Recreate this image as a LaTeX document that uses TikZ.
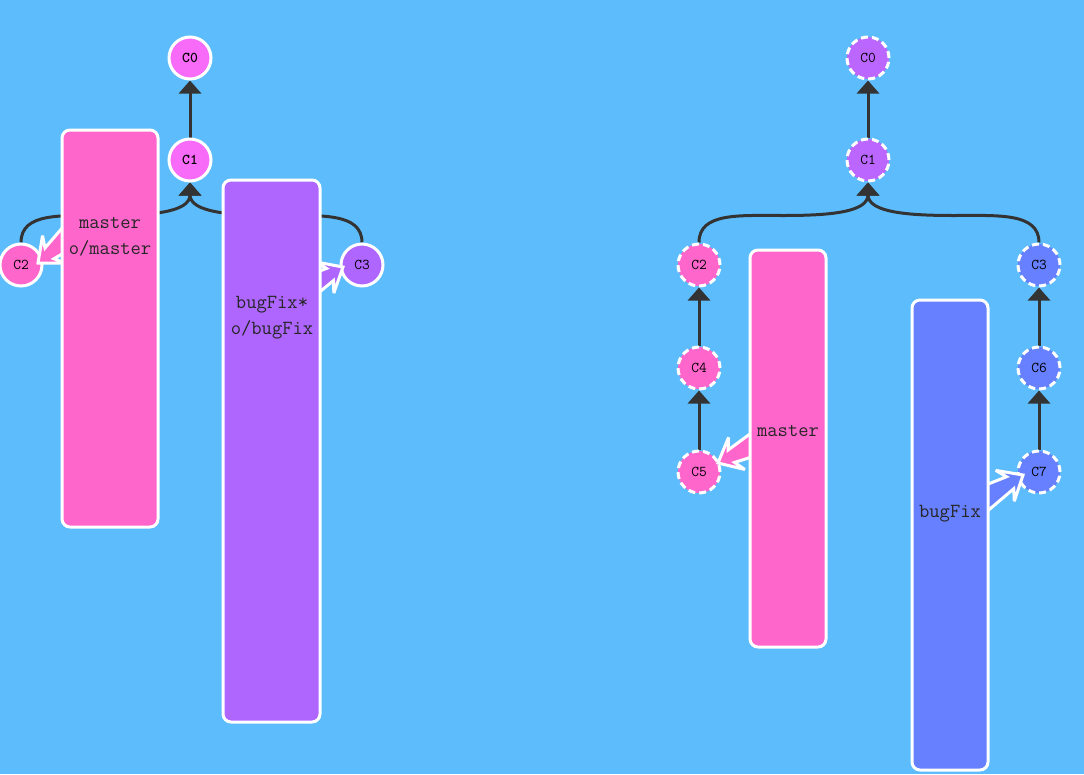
\documentclass[tikz,border=0pt]{standalone}
\usepackage{fontspec}
\usetikzlibrary{arrows.meta,calc}
\definecolor{bgc}{HTML}{5DBCFC}
\definecolor{pinkc}{HTML}{FF66CC}
\definecolor{magc}{HTML}{F86AF8}
\definecolor{purc}{HTML}{AE66FF}
\definecolor{violc}{HTML}{BB66FF}
\definecolor{bluec}{HTML}{6680FF}
\definecolor{edgec}{HTML}{333333}
\pgfdeclarelayer{back}
\pgfdeclarelayer{edges}
\pgfsetlayers{back,edges,main}
\tikzset{
  commit/.style={circle, minimum size=42pt, inner sep=0pt, draw=white, line width=3pt,
    font=\ttfamily\fontsize{15}{15}\selectfont, text=black},
  ghost/.style={commit, dash pattern=on 7pt off 4pt},
  edge/.style={draw=edgec, line width=3pt, -{Triangle[width=22pt,length=13pt]}},
  bbox/.style={draw=white, line width=3pt, rounded corners=8pt, inner sep=0pt},
  btext/.style={font=\ttfamily\fontsize{20}{26}\selectfont, align=center, text=black!85},
  pics/fatarrow/.style={code={
    \filldraw[draw=white, line width=3pt, fill=#1, miter limit=4]
      (0,0) -- (-21,18) -- (-15,7) -- (-70,16) -- (-70,-16) -- (-15,-7) -- (-21,-18) -- cycle;}}
}
\begin{document}
\begin{tikzpicture}[x=1pt,y=-1pt]
\useasboundingbox (0,0) rectangle (1084,774);
\begin{pgfonlayer}{back}
  \fill[bgc] (0,0) rectangle (1084,774);
\end{pgfonlayer}

% ---------- left graph ----------
\node[commit, fill=magc, font=\ttfamily\bfseries\fontsize{15}{15}\selectfont] (lc0) at (190,58) {C0};
\node[commit, fill=magc, font=\ttfamily\bfseries\fontsize{15}{15}\selectfont] (lc1) at (190,160) {C1};
\node[commit, fill=pinkc] (lc2) at (21,265) {C2};
\node[commit, fill=purc] (lc3) at (362,265) {C3};

% ---------- right graph ----------
\node[ghost, fill=violc] (rc0) at (868,58) {C0};
\node[ghost, fill=violc] (rc1) at (868,160) {C1};
\node[ghost, fill=pinkc] (rc2) at (699,265) {C2};
\node[ghost, fill=pinkc] (rc4) at (699,368) {C4};
\node[ghost, fill=pinkc] (rc5) at (699,472) {C5};
\node[ghost, fill=bluec] (rc3) at (1039,265) {C3};
\node[ghost, fill=bluec] (rc6) at (1039,368) {C6};
\node[ghost, fill=bluec] (rc7) at (1039,472) {C7};

\begin{pgfonlayer}{edges}
  \draw[edge] (lc1) -- (lc0);
  \draw[edge] (lc2.north) .. controls +(0,-30) and +(-45,0) .. ($(lc2.north)!.5!(lc1.south)+(0,3)$)
              .. controls +(45,0) and +(0,30) .. (lc1.south);
  \draw[edge] (lc3.north) .. controls +(0,-30) and +(45,0) .. ($(lc3.north)!.5!(lc1.south)+(0,3)$)
              .. controls +(-45,0) and +(0,30) .. (lc1.south);
  \draw[edge] (rc1) -- (rc0);
  \draw[edge] (rc2.north) .. controls +(0,-30) and +(-45,0) .. ($(rc2.north)!.5!(rc1.south)+(0,3)$)
              .. controls +(45,0) and +(0,30) .. (rc1.south);
  \draw[edge] (rc3.north) .. controls +(0,-30) and +(45,0) .. ($(rc3.north)!.5!(rc1.south)+(0,3)$)
              .. controls +(-45,0) and +(0,30) .. (rc1.south);
  \draw[edge] (rc4) -- (rc2);
  \draw[edge] (rc5) -- (rc4);
  \draw[edge] (rc6) -- (rc3);
  \draw[edge] (rc7) -- (rc6);
\end{pgfonlayer}

% ---------- branch arrows ----------
\pic[rotate=-140] at (38,263) {fatarrow=pinkc};
\pic[rotate=30] at (343,267) {fatarrow=purc};
\pic[rotate=-153] at (718,463) {fatarrow=pinkc};
\pic[rotate=31] at (1023,475) {fatarrow=bluec};

% ---------- branch boxes ----------
\node[bbox, fill=pinkc, minimum width=96pt, minimum height=397pt] (lmaster) at (110,328.5) {};
\node[bbox, fill=purc, minimum width=97pt, minimum height=542pt] (lbugfix) at (271.5,451) {};
\node[bbox, fill=pinkc, minimum width=76pt, minimum height=397pt] (rmaster) at (788,448.5) {};
\node[bbox, fill=bluec, minimum width=76pt, minimum height=470pt] (rbugfix) at (950,535) {};

\node[btext] (lmastertxt) at (110,237) {master\\o/master};
\node[btext] (lbugfixtxt) at (272,318) {bugFix*\\o/bugFix};
\node[btext] (rmastertxt) at (788,431) {master};
\node[btext] (rbugfixtxt) at (950,514) {bugFix};
\end{tikzpicture}
\end{document}
